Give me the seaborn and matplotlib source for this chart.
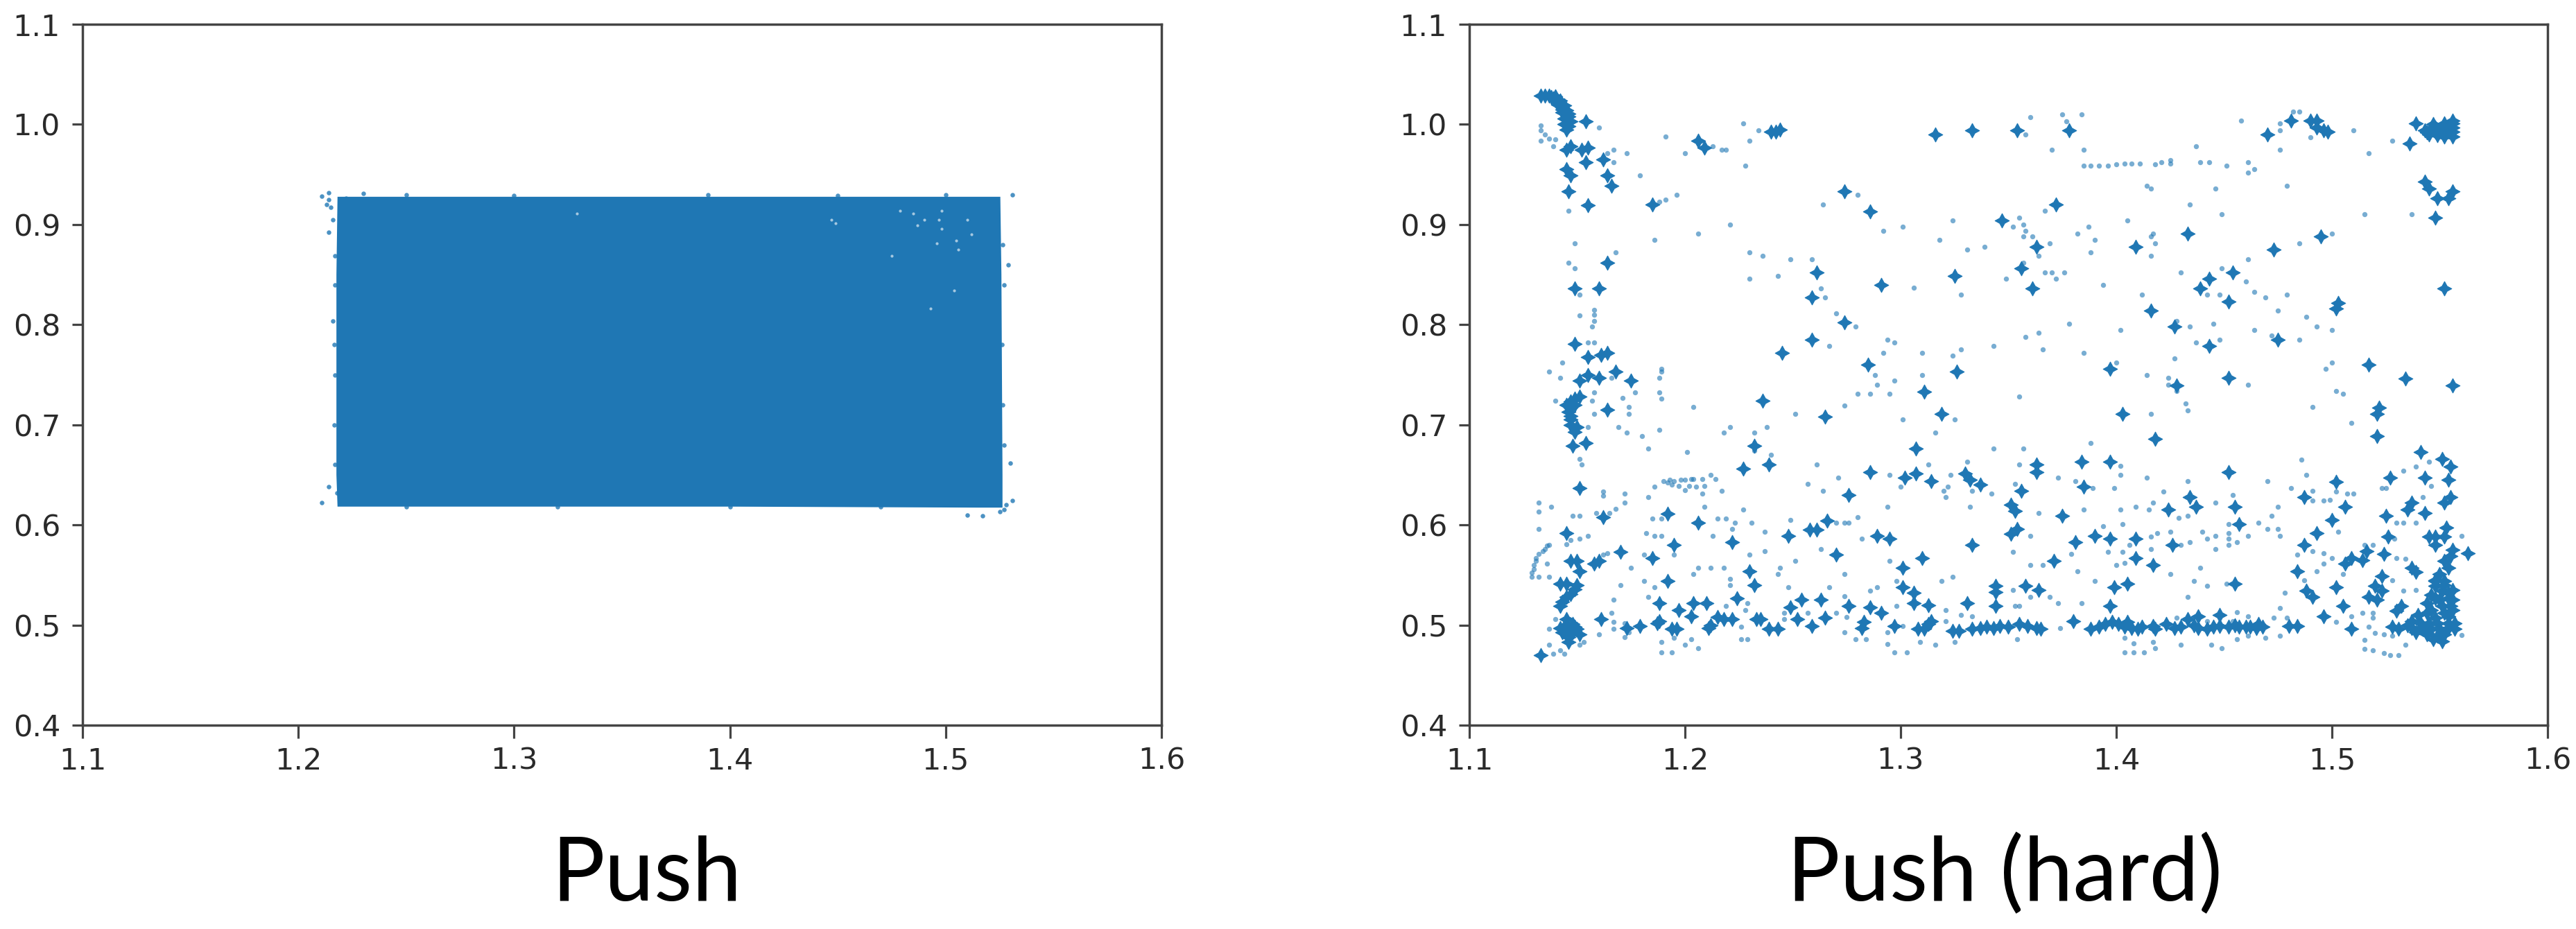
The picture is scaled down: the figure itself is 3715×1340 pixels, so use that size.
#!/usr/bin/env python3
"""Push vs Push (hard): two scatter panels of points read off the picture."""
import pandas as pd
import matplotlib
matplotlib.use('Agg')
import matplotlib.pyplot as plt
import seaborn as sns

XTICKS = [1.1, 1.2, 1.3, 1.4, 1.5, 1.6]
YTICKS = [0.4, 0.5, 0.6, 0.7, 0.8, 0.9, 1.0, 1.1]
TITLES = ['Push', 'Push (hard)']

# Push: the block is too dense to tell points apart, so its outline is read instead
push_outline_x = [1.2185, 1.400, 1.525, 1.5255, 1.526, 1.526, 1.515, 1.400, 1.2185, 1.218, 1.218, 1.2185]
push_outline_y = [0.927, 0.927, 0.927, 0.850, 0.650, 0.618, 0.618, 0.619, 0.619, 0.650, 0.850, 0.927]
push_stray = [
    (1.211, 0.928), (1.214, 0.925), (1.215, 0.917), (1.216, 0.905), (1.214, 0.892), (1.230, 0.931),
    (1.531, 0.930), (1.211, 0.622), (1.214, 0.638), (1.218, 0.632), (1.530, 0.662), (1.529, 0.860),
    (1.531, 0.624), (1.527, 0.615), (1.517, 0.609), (1.510, 0.610), (1.216, 0.804), (1.217, 0.840),
    (1.217, 0.869), (1.222, 0.926), (1.214, 0.932), (1.213, 0.920), (1.528, 0.620), (1.525, 0.613),
    (1.2165, 0.780), (1.217, 0.750), (1.2165, 0.700), (1.217, 0.660), (1.526, 0.780), (1.5265, 0.720),
    (1.527, 0.680), (1.5265, 0.880), (1.527, 0.840), (1.250, 0.9295), (1.300, 0.929), (1.390, 0.9295),
    (1.450, 0.929), (1.500, 0.9295), (1.250, 0.618), (1.320, 0.618), (1.400, 0.618), (1.470, 0.618),
]
push_holes = [
    (1.487, 0.899), (1.498, 0.914), (1.498, 0.896), (1.496, 0.881), (1.506, 0.875), (1.485, 0.911),
    (1.512, 0.890), (1.447, 0.905), (1.475, 0.869), (1.504, 0.834), (1.493, 0.816), (1.329, 0.911),
    (1.479, 0.914), (1.449, 0.901), (1.497, 0.905), (1.505, 0.884), (1.490, 0.905), (1.510, 0.905),
]

# Push (hard): heavy marks
hard_big_crescent = [
    (1.133, 1.029), (1.135, 1.029), (1.137, 1.029), (1.140, 1.028), (1.142, 1.024), (1.144, 1.019),
    (1.145, 1.014), (1.146, 1.008), (1.147, 1.003), (1.146, 0.998), (1.145, 0.995), (1.141, 1.023),
    (1.143, 1.015), (1.154, 1.003), (1.139, 1.026), (1.141, 1.020), (1.143, 1.012), (1.144, 1.006),
    (1.144, 1.000), (1.138, 1.027), (1.146, 1.011), (1.143, 1.017),
]
hard_big_top_left = [
    (1.145, 0.955), (1.147, 0.949), (1.146, 0.933), (1.154, 0.962), (1.162, 0.965), (1.164, 0.949),
    (1.166, 0.939), (1.152, 0.975), (1.155, 0.977), (1.147, 0.978), (1.145, 0.975), (1.155, 0.919),
    (1.185, 0.920), (1.206, 0.984), (1.209, 0.977), (1.242, 0.993), (1.244, 0.995), (1.240, 0.993),
    (1.316, 0.990), (1.333, 0.994), (1.274, 0.933), (1.286, 0.913), (1.164, 0.862), (1.149, 0.836),
    (1.160, 0.836), (1.261, 0.852), (1.325, 0.849), (1.291, 0.840), (1.259, 0.827), (1.274, 0.802),
    (1.259, 0.785), (1.245, 0.772), (1.149, 0.781), (1.155, 0.768), (1.164, 0.772), (1.161, 0.770),
    (1.168, 0.753), (1.175, 0.744), (1.160, 0.747), (1.155, 0.750), (1.151, 0.744), (1.285, 0.760),
    (1.326, 0.753),
]
hard_big_top_right = [
    (1.354, 0.994), (1.378, 0.994), (1.470, 0.990), (1.481, 1.004), (1.490, 1.004), (1.493, 1.004),
    (1.493, 0.997), (1.496, 0.994), (1.498, 0.993), (1.539, 1.001), (1.536, 0.981), (1.556, 1.004),
    (1.543, 0.994), (1.546, 0.996), (1.548, 0.997), (1.551, 0.996), (1.554, 0.997), (1.556, 0.997),
    (1.544, 0.992), (1.548, 0.993), (1.550, 0.993), (1.553, 0.993), (1.556, 0.993), (1.545, 0.990),
    (1.549, 0.989), (1.552, 0.988), (1.556, 0.988), (1.547, 1.000), (1.552, 1.001), (1.556, 1.001),
    (1.543, 0.943), (1.545, 0.936), (1.549, 0.926), (1.554, 0.926), (1.556, 0.933), (1.548, 0.907),
    (1.372, 0.920), (1.347, 0.904), (1.363, 0.878), (1.409, 0.878), (1.473, 0.875), (1.433, 0.891),
    (1.495, 0.888), (1.356, 0.856), (1.361, 0.836), (1.454, 0.852), (1.443, 0.846), (1.439, 0.836),
    (1.452, 0.823), (1.552, 0.836), (1.502, 0.816), (1.503, 0.822), (1.416, 0.814), (1.427, 0.798),
    (1.475, 0.785), (1.443, 0.779), (1.397, 0.756), (1.517, 0.760), (1.534, 0.746), (1.452, 0.747),
    (1.556, 0.739), (1.428, 0.739),
]
hard_big_bottom_left = [
    (1.151, 0.728), (1.149, 0.726), (1.147, 0.723), (1.147, 0.717), (1.147, 0.709), (1.147, 0.705),
    (1.150, 0.698), (1.149, 0.693), (1.164, 0.715), (1.236, 0.724), (1.265, 0.708), (1.311, 0.733),
    (1.146, 0.713), (1.149, 0.720), (1.145, 0.720), (1.147, 0.700),
    (1.319, 0.711), (1.148, 0.679), (1.154, 0.682), (1.232, 0.679), (1.307, 0.676), (1.227, 0.656),
    (1.239, 0.660), (1.286, 0.653), (1.307, 0.651), (1.314, 0.644), (1.302, 0.647), (1.330, 0.651),
    (1.332, 0.645), (1.337, 0.640), (1.151, 0.637), (1.276, 0.630), (1.162, 0.608), (1.192, 0.611),
    (1.206, 0.602), (1.266, 0.604), (1.258, 0.595), (1.261, 0.595), (1.145, 0.592), (1.248, 0.589),
    (1.289, 0.589), (1.295, 0.586), (1.222, 0.583), (1.195, 0.580), (1.333, 0.580), (1.170, 0.573),
    (1.270, 0.570), (1.185, 0.567), (1.310, 0.567), (1.147, 0.564), (1.150, 0.564), (1.158, 0.561),
    (1.160, 0.564), (1.301, 0.557), (1.151, 0.554), (1.230, 0.554), (1.142, 0.541), (1.145, 0.541),
    (1.192, 0.544), (1.232, 0.540), (1.301, 0.538), (1.344, 0.533), (1.344, 0.539), (1.149, 0.536),
    (1.147, 0.531), (1.145, 0.528), (1.143, 0.523), (1.142, 0.519), (1.150, 0.540), (1.224, 0.527),
    (1.306, 0.532), (1.306, 0.522), (1.254, 0.525), (1.263, 0.525), (1.188, 0.522), (1.204, 0.522),
    (1.210, 0.522), (1.249, 0.518), (1.276, 0.519), (1.286, 0.518), (1.313, 0.520), (1.331, 0.522),
    (1.344, 0.519), (1.197, 0.515), (1.145, 0.506), (1.161, 0.506), (1.203, 0.509), (1.215, 0.508),
    (1.218, 0.506), (1.222, 0.506), (1.233, 0.506), (1.235, 0.506), (1.252, 0.506), (1.265, 0.507),
    (1.283, 0.503), (1.291, 0.512), (1.314, 0.504), (1.313, 0.501), (1.188, 0.504), (1.187, 0.502),
    (1.179, 0.499), (1.146, 0.497), (1.143, 0.493), (1.148, 0.493), (1.150, 0.496), (1.146, 0.488),
    (1.146, 0.483), (1.149, 0.498), (1.144, 0.498), (1.148, 0.501), (1.142, 0.497), (1.146, 0.492),
    (1.151, 0.491), (1.194, 0.496), (1.196, 0.496), (1.211, 0.497), (1.212, 0.500),
    (1.239, 0.496), (1.243, 0.496), (1.259, 0.499), (1.282, 0.497), (1.297, 0.499), (1.308, 0.496),
    (1.311, 0.496), (1.324, 0.494), (1.327, 0.494), (1.333, 0.496), (1.337, 0.497), (1.340, 0.498),
    (1.343, 0.497), (1.173, 0.497), (1.133, 0.470),
]
hard_big_bottom_right = [
    (1.403, 0.711), (1.418, 0.686), (1.522, 0.717), (1.521, 0.711), (1.521, 0.689), (1.541, 0.673),
    (1.551, 0.666), (1.555, 0.658), (1.554, 0.645), (1.543, 0.647), (1.527, 0.647), (1.502, 0.643),
    (1.487, 0.628), (1.452, 0.653), (1.384, 0.663), (1.397, 0.663), (1.363, 0.660), (1.363, 0.653),
    (1.385, 0.638), (1.356, 0.634), (1.351, 0.620), (1.353, 0.614), (1.375, 0.609), (1.424, 0.615),
    (1.434, 0.628), (1.437, 0.618), (1.455, 0.618), (1.506, 0.618), (1.500, 0.605), (1.525, 0.609),
    (1.535, 0.615), (1.537, 0.622), (1.552, 0.622), (1.555, 0.628), (1.543, 0.612), (1.457, 0.601),
    (1.354, 0.596), (1.351, 0.591), (1.390, 0.589), (1.397, 0.586), (1.409, 0.586), (1.381, 0.583),
    (1.426, 0.580), (1.493, 0.592), (1.487, 0.580), (1.526, 0.588), (1.553, 0.597), (1.545, 0.588),
    (1.548, 0.588), (1.552, 0.588), (1.548, 0.580), (1.556, 0.575), (1.555, 0.569), (1.563, 0.572),
    (1.371, 0.564), (1.409, 0.567), (1.417, 0.560), (1.516, 0.574), (1.514, 0.565), (1.509, 0.567),
    (1.506, 0.561), (1.524, 0.571), (1.484, 0.554), (1.537, 0.557), (1.539, 0.553), (1.552, 0.564),
    (1.554, 0.557), (1.550, 0.551), (1.548, 0.544), (1.552, 0.544), (1.523, 0.549), (1.520, 0.539),
    (1.523, 0.534), (1.517, 0.528), (1.521, 0.525), (1.455, 0.541), (1.405, 0.541), (1.399, 0.538),
    (1.502, 0.538), (1.364, 0.535), (1.358, 0.539), (1.488, 0.534), (1.491, 0.528), (1.397, 0.519),
    (1.505, 0.519), (1.509, 0.496), (1.496, 0.509), (1.484, 0.499), (1.480, 0.499),
]
hard_big_corner = [
    (1.548, 0.539), (1.551, 0.534), (1.554, 0.532), (1.548, 0.527), (1.554, 0.527), (1.544, 0.522),
    (1.551, 0.519), (1.555, 0.519), (1.532, 0.519), (1.530, 0.514), (1.544, 0.512), (1.548, 0.507),
    (1.554, 0.509), (1.537, 0.504), (1.541, 0.502), (1.545, 0.502), (1.549, 0.502), (1.554, 0.502),
    (1.557, 0.502), (1.537, 0.497), (1.542, 0.496), (1.546, 0.496), (1.550, 0.496), (1.554, 0.497),
    (1.557, 0.496), (1.528, 0.498), (1.531, 0.496), (1.544, 0.491), (1.549, 0.489), (1.540, 0.510),
    (1.546, 0.515), (1.552, 0.512), (1.556, 0.515), (1.550, 0.525), (1.546, 0.530), (1.556, 0.525),
    (1.556, 0.535), (1.552, 0.540), (1.542, 0.498), (1.539, 0.493), (1.552, 0.491), (1.547, 0.486),
    (1.551, 0.484), (1.535, 0.500), (1.548, 0.545),
]
hard_big_band = [
    (1.388, 0.496), (1.398, 0.503), (1.401, 0.501), (1.405, 0.503), (1.407, 0.497), (1.410, 0.496),
    (1.417, 0.499), (1.418, 0.496), (1.423, 0.501), (1.427, 0.497), (1.430, 0.498), (1.433, 0.506),
    (1.438, 0.509), (1.438, 0.497), (1.442, 0.496), (1.448, 0.510), (1.448, 0.499), (1.452, 0.498),
    (1.457, 0.498), (1.462, 0.498), (1.466, 0.501), (1.468, 0.498), (1.346, 0.499), (1.355, 0.501),
    (1.359, 0.499), (1.363, 0.497), (1.365, 0.496), (1.350, 0.498), (1.380, 0.504), (1.392, 0.498),
    (1.395, 0.501), (1.404, 0.498), (1.412, 0.498), (1.436, 0.500), (1.445, 0.498), (1.455, 0.500),
    (1.460, 0.498), (1.465, 0.497),
]

# Push (hard): light marks
hard_small_top_left = [
    (1.160, 0.997), (1.133, 0.984), (1.139, 0.978), (1.133, 0.999), (1.133, 0.994), (1.135, 0.990),
    (1.137, 0.986), (1.140, 0.985), (1.191, 0.988), (1.227, 1.001), (1.234, 0.994), (1.230, 0.984),
    (1.213, 0.978), (1.217, 0.975), (1.219, 0.975), (1.200, 0.971), (1.228, 0.959), (1.167, 0.975),
    (1.164, 0.971), (1.173, 0.971), (1.167, 0.962), (1.179, 0.949), (1.191, 0.925), (1.196, 0.930),
    (1.188, 0.923), (1.280, 0.930), (1.264, 0.920), (1.146, 0.914), (1.221, 0.900), (1.206, 0.891),
    (1.186, 0.885), (1.292, 0.894), (1.301, 0.898), (1.324, 0.904), (1.318, 0.885), (1.331, 0.875),
    (1.339, 0.878), (1.149, 0.881), (1.168, 0.872), (1.146, 0.862), (1.149, 0.856), (1.230, 0.872),
    (1.236, 0.869), (1.249, 0.865), (1.259, 0.865), (1.230, 0.846), (1.243, 0.849), (1.263, 0.836),
    (1.265, 0.827), (1.270, 0.811), (1.279, 0.798), (1.306, 0.837), (1.328, 0.830), (1.151, 0.830),
    (1.158, 0.815), (1.158, 0.810), (1.151, 0.809), (1.158, 0.804), (1.157, 0.798), (1.155, 0.782),
    (1.158, 0.782), (1.294, 0.785), (1.297, 0.782), (1.267, 0.779), (1.292, 0.772), (1.310, 0.772),
    (1.328, 0.775), (1.324, 0.769), (1.343, 0.779), (1.143, 0.762), (1.137, 0.753), (1.142, 0.747),
    (1.189, 0.756), (1.189, 0.753), (1.188, 0.747), (1.166, 0.747), (1.288, 0.750), (1.310, 0.750),
    (1.297, 0.744), (1.289, 0.740),
]
hard_small_top_right = [
    (1.360, 1.007), (1.375, 1.010), (1.384, 1.010), (1.358, 0.990), (1.377, 1.003), (1.458, 1.004),
    (1.437, 0.978), (1.370, 0.975), (1.385, 0.975), (1.476, 1.001), (1.476, 0.994), (1.476, 0.975),
    (1.482, 1.013), (1.485, 1.013), (1.490, 0.987), (1.510, 0.994), (1.517, 0.971), (1.528, 0.984),
    (1.385, 0.959), (1.388, 0.959), (1.392, 0.959), (1.396, 0.959), (1.400, 0.960), (1.404, 0.961),
    (1.407, 0.961), (1.411, 0.961), (1.418, 0.960), (1.421, 0.962), (1.425, 0.964), (1.425, 0.961),
    (1.439, 0.962), (1.443, 0.962), (1.451, 0.959), (1.461, 0.962), (1.464, 0.955), (1.461, 0.952),
    (1.414, 0.939), (1.416, 0.936), (1.446, 0.936), (1.479, 0.939), (1.434, 0.920), (1.367, 0.914),
    (1.449, 0.910), (1.515, 0.910), (1.537, 0.910), (1.355, 0.907), (1.357, 0.900), (1.352, 0.898),
    (1.358, 0.894), (1.357, 0.888), (1.361, 0.888), (1.369, 0.881), (1.364, 0.869), (1.405, 0.904),
    (1.387, 0.898), (1.382, 0.891), (1.390, 0.885), (1.388, 0.872), (1.417, 0.891), (1.416, 0.888),
    (1.418, 0.881), (1.416, 0.869), (1.500, 0.891), (1.485, 0.881), (1.461, 0.865), (1.449, 0.856),
    (1.430, 0.852), (1.367, 0.852), (1.370, 0.852), (1.376, 0.852), (1.372, 0.846), (1.349, 0.846),
    (1.357, 0.862), (1.460, 0.843), (1.464, 0.833), (1.469, 0.827), (1.479, 0.830), (1.394, 0.840),
    (1.412, 0.830), (1.442, 0.830), (1.448, 0.830), (1.475, 0.814), (1.488, 0.808), (1.493, 0.798),
    (1.500, 0.795), (1.464, 0.795), (1.378, 0.801), (1.402, 0.795), (1.434, 0.798), (1.445, 0.801),
    (1.428, 0.804), (1.358, 0.788), (1.364, 0.792), (1.366, 0.775), (1.385, 0.772), (1.437, 0.782),
    (1.448, 0.785), (1.472, 0.789), (1.485, 0.785), (1.427, 0.766), (1.400, 0.762), (1.500, 0.762),
    (1.497, 0.756), (1.414, 0.750), (1.424, 0.747), (1.424, 0.740), (1.461, 0.740),
]
hard_small_bottom_left = [
    (1.129, 0.548), (1.130, 0.556), (1.131, 0.564), (1.132, 0.571), (1.135, 0.576), (1.137, 0.580),
    (1.132, 0.548), (1.129, 0.552), (1.130, 0.560), (1.131, 0.567), (1.134, 0.574), (1.136, 0.579),
    (1.132, 0.622), (1.132, 0.613), (1.138, 0.618), (1.132, 0.596), (1.148, 0.609), (1.151, 0.609),
    (1.162, 0.633), (1.162, 0.629), (1.172, 0.631), (1.172, 0.622), (1.168, 0.616), (1.159, 0.612),
    (1.165, 0.612), (1.183, 0.628), (1.186, 0.638), (1.190, 0.644), (1.195, 0.644), (1.200, 0.645),
    (1.204, 0.646), (1.212, 0.650), (1.214, 0.646), (1.192, 0.642), (1.197, 0.639), (1.202, 0.639),
    (1.209, 0.639), (1.200, 0.635), (1.193, 0.645), (1.198, 0.645), (1.203, 0.646), (1.208, 0.646),
    (1.194, 0.640), (1.205, 0.638), (1.217, 0.634), (1.208, 0.631), (1.209, 0.618), (1.227, 0.615),
    (1.257, 0.641), (1.264, 0.634), (1.271, 0.647), (1.261, 0.660), (1.294, 0.618), (1.295, 0.650),
    (1.300, 0.638), (1.320, 0.634), (1.321, 0.628), (1.323, 0.650), (1.322, 0.638), (1.313, 0.660),
    (1.331, 0.663), (1.343, 0.676), (1.333, 0.634), (1.332, 0.618), (1.342, 0.631), (1.183, 0.676),
    (1.201, 0.673), (1.180, 0.689), (1.173, 0.692), (1.169, 0.698), (1.188, 0.695), (1.158, 0.711),
    (1.174, 0.711), (1.174, 0.718), (1.204, 0.718), (1.189, 0.726), (1.188, 0.732), (1.171, 0.727),
    (1.177, 0.732), (1.157, 0.724), (1.158, 0.732), (1.140, 0.724), (1.218, 0.692), (1.221, 0.698),
    (1.232, 0.692), (1.238, 0.698), (1.240, 0.670), (1.232, 0.674), (1.251, 0.711), (1.274, 0.719),
    (1.280, 0.731), (1.286, 0.731), (1.295, 0.731), (1.301, 0.705), (1.316, 0.692), (1.325, 0.705),
    (1.152, 0.660), (1.151, 0.666), (1.155, 0.698), (1.182, 0.592), (1.186, 0.589), (1.189, 0.589),
    (1.185, 0.606), (1.189, 0.606), (1.215, 0.606), (1.219, 0.606), (1.223, 0.602), (1.222, 0.596),
    (1.231, 0.602), (1.249, 0.605), (1.280, 0.608), (1.274, 0.602), (1.276, 0.602), (1.270, 0.602),
    (1.213, 0.589), (1.237, 0.593), (1.282, 0.586), (1.263, 0.576), (1.155, 0.589), (1.151, 0.586),
    (1.145, 0.581), (1.147, 0.585), (1.164, 0.572), (1.162, 0.570), (1.181, 0.570), (1.195, 0.570),
    (1.237, 0.574), (1.230, 0.570), (1.251, 0.564), (1.295, 0.564), (1.206, 0.557), (1.204, 0.551),
    (1.212, 0.557), (1.218, 0.557), (1.175, 0.557), (1.244, 0.557), (1.243, 0.551), (1.274, 0.551),
    (1.136, 0.561), (1.137, 0.548), (1.181, 0.544), (1.170, 0.540), (1.186, 0.538), (1.221, 0.546),
    (1.221, 0.540), (1.248, 0.538), (1.267, 0.538), (1.289, 0.538), (1.286, 0.534), (1.274, 0.529),
    (1.298, 0.544), (1.319, 0.544), (1.324, 0.548), (1.167, 0.525), (1.183, 0.528), (1.229, 0.522),
    (1.219, 0.519), (1.228, 0.515), (1.246, 0.512), (1.246, 0.506), (1.257, 0.512), (1.270, 0.512),
    (1.275, 0.508), (1.166, 0.512), (1.167, 0.503), (1.167, 0.496), (1.172, 0.502), (1.172, 0.488),
    (1.174, 0.493), (1.160, 0.491), (1.137, 0.496), (1.140, 0.506), (1.189, 0.483), (1.195, 0.487),
    (1.203, 0.486), (1.200, 0.480), (1.206, 0.477), (1.189, 0.473), (1.194, 0.473), (1.226, 0.498),
    (1.226, 0.486), (1.229, 0.486), (1.274, 0.493), (1.279, 0.486), (1.284, 0.486), (1.294, 0.493),
    (1.294, 0.481), (1.297, 0.473), (1.303, 0.473), (1.309, 0.483), (1.316, 0.480), (1.325, 0.483),
    (1.298, 0.519), (1.301, 0.499), (1.137, 0.480), (1.142, 0.475), (1.144, 0.471), (1.139, 0.471),
    (1.153, 0.483), (1.151, 0.480), (1.321, 0.515), (1.321, 0.504), (1.328, 0.510), (1.333, 0.509),
]
hard_small_bottom_right = [
    (1.355, 0.728), (1.416, 0.711), (1.432, 0.721), (1.433, 0.714), (1.428, 0.734), (1.502, 0.734),
    (1.505, 0.731), (1.491, 0.718), (1.509, 0.702), (1.388, 0.682), (1.357, 0.676), (1.355, 0.660),
    (1.402, 0.659), (1.402, 0.650), (1.373, 0.647), (1.381, 0.644), (1.414, 0.647), (1.399, 0.637),
    (1.389, 0.637), (1.353, 0.641), (1.433, 0.644), (1.470, 0.644), (1.481, 0.637), (1.488, 0.650),
    (1.486, 0.665), (1.422, 0.633), (1.454, 0.630), (1.417, 0.622), (1.409, 0.618), (1.446, 0.622),
    (1.475, 0.618), (1.385, 0.615), (1.402, 0.615), (1.415, 0.615), (1.364, 0.612), (1.429, 0.607),
    (1.433, 0.609), (1.472, 0.609), (1.403, 0.601), (1.394, 0.599), (1.466, 0.602), (1.452, 0.601),
    (1.470, 0.596), (1.475, 0.596), (1.476, 0.589), (1.440, 0.593), (1.442, 0.586), (1.446, 0.589),
    (1.452, 0.592), (1.452, 0.586), (1.452, 0.580), (1.456, 0.583), (1.461, 0.589), (1.446, 0.576),
    (1.434, 0.583), (1.430, 0.580), (1.425, 0.593), (1.419, 0.592), (1.416, 0.588), (1.416, 0.576),
    (1.403, 0.573), (1.396, 0.573), (1.352, 0.573), (1.360, 0.589), (1.379, 0.571), (1.406, 0.580),
    (1.360, 0.560), (1.366, 0.560), (1.382, 0.554), (1.390, 0.544), (1.400, 0.560), (1.404, 0.562),
    (1.425, 0.551), (1.439, 0.557), (1.436, 0.544), (1.442, 0.539), (1.451, 0.541), (1.433, 0.528),
    (1.478, 0.532), (1.487, 0.545), (1.493, 0.554), (1.484, 0.570), (1.491, 0.574), (1.496, 0.572),
    (1.500, 0.567), (1.496, 0.561), (1.491, 0.634), (1.496, 0.624), (1.499, 0.625), (1.502, 0.633),
    (1.510, 0.631), (1.507, 0.631), (1.503, 0.593), (1.491, 0.624), (1.523, 0.637), (1.525, 0.637),
    (1.533, 0.654), (1.539, 0.658), (1.545, 0.663), (1.542, 0.628), (1.546, 0.639), (1.530, 0.602),
    (1.533, 0.602), (1.539, 0.602), (1.560, 0.589), (1.529, 0.586), (1.515, 0.580), (1.519, 0.580),
    (1.530, 0.567), (1.534, 0.566), (1.505, 0.551), (1.533, 0.534), (1.539, 0.535), (1.528, 0.545),
    (1.519, 0.507), (1.517, 0.498), (1.520, 0.492), (1.524, 0.491), (1.528, 0.489), (1.514, 0.512),
    (1.519, 0.512), (1.515, 0.485), (1.515, 0.476), (1.519, 0.475), (1.524, 0.472), (1.527, 0.470),
    (1.531, 0.470), (1.502, 0.503), (1.509, 0.509), (1.560, 0.490), (1.534, 0.480), (1.352, 0.535),
    (1.360, 0.528), (1.353, 0.519), (1.355, 0.519), (1.373, 0.522), (1.384, 0.522), (1.369, 0.528),
    (1.354, 0.486), (1.374, 0.497), (1.404, 0.473), (1.408, 0.473), (1.413, 0.473), (1.418, 0.477),
    (1.417, 0.483), (1.430, 0.480), (1.444, 0.480), (1.449, 0.477), (1.404, 0.487), (1.408, 0.482),
    (1.456, 0.486), (1.461, 0.489), (1.469, 0.487), (1.476, 0.489), (1.476, 0.517), (1.473, 0.507),
    (1.479, 0.507), (1.456, 0.513), (1.461, 0.509), (1.428, 0.507), (1.442, 0.504), (1.454, 0.504),
]

BLUE = '#1f77b4'
STAR = (4, 1, 0)


def frame(*groups):
    rows = [p for g in groups for p in g]
    return pd.DataFrame(rows, columns=['x', 'y'])


def style_axes(ax):
    ax.set_xlim(XTICKS[0], XTICKS[-1])
    ax.set_ylim(YTICKS[0], YTICKS[-1])
    ax.set_xticks(XTICKS)
    ax.set_yticks(YTICKS)
    ax.set_xlabel('')
    ax.set_ylabel('')
    ax.tick_params(axis='x', length=14, width=2.3, color='#444444', labelsize=31, labelcolor='#2a2a2a', pad=8)
    ax.tick_params(axis='y', length=11, width=2.3, color='#444444', labelsize=31, labelcolor='#2a2a2a', pad=12)
    for spine in ax.spines.values():
        spine.set_linewidth(2.5)
        spine.set_color('#444444')


sns.set_theme(style='ticks')
plt.rcParams['font.family'] = ['DejaVu Sans']

W, H = 3716, 1340
fig = plt.figure(figsize=(W / 100, H / 100), dpi=100, facecolor='white')
ax_push = fig.add_axes([119 / W, 1 - 1046 / H, 1556 / W, 1011 / H])
ax_hard = fig.add_axes([2119 / W, 1 - 1046 / H, 1555 / W, 1011 / H])

# Push
ax_push.fill(push_outline_x, push_outline_y, color=BLUE, lw=1.5)
sns.scatterplot(data=frame(push_stray), x='x', y='y', ax=ax_push, color=BLUE, marker='o', s=22, linewidth=0, alpha=0.8)
sns.scatterplot(data=frame(push_holes), x='x', y='y', ax=ax_push, color='white', marker='o', s=9, linewidth=0, alpha=0.6)

# Push (hard)
sns.scatterplot(data=frame(hard_small_top_left, hard_small_top_right, hard_small_bottom_left, hard_small_bottom_right),
                x='x', y='y', ax=ax_hard, color=BLUE, marker='o', s=28, linewidth=0, alpha=0.6)
sns.scatterplot(data=frame(hard_big_crescent, hard_big_top_left, hard_big_top_right, hard_big_bottom_left,
                           hard_big_bottom_right, hard_big_corner, hard_big_band),
                x='x', y='y', ax=ax_hard, color=BLUE, marker=STAR, s=220, linewidth=0.8, edgecolor=BLUE)

style_axes(ax_push)
style_axes(ax_hard)

fig.text(933 / W, 1 - 1299 / H, TITLES[0], family='Lato', fontsize=92, color='black', ha='center', va='baseline')
fig.text(2891 / W, 1 - 1299 / H, TITLES[1], family='Lato', fontsize=92, color='black', ha='center', va='baseline')

plt.savefig('out.png', dpi=100)
plt.close()
